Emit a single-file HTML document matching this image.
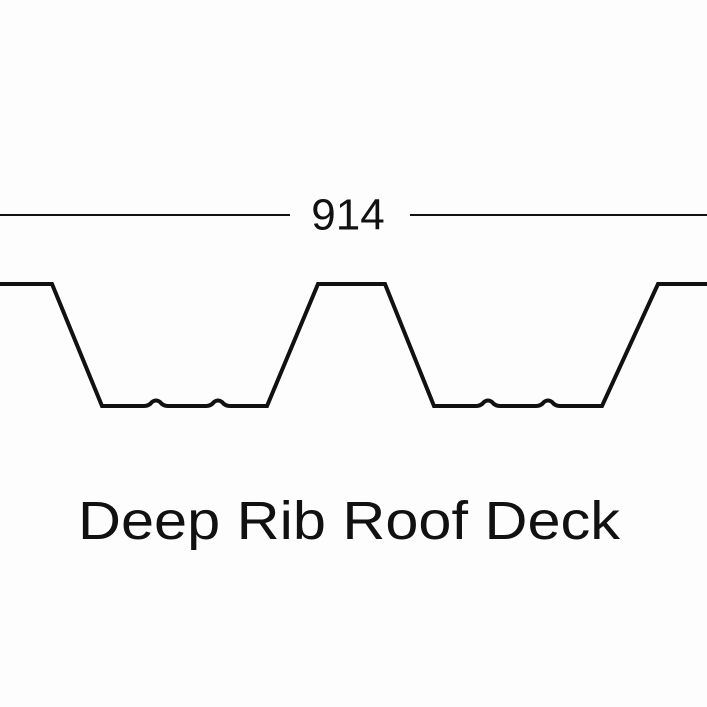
<!DOCTYPE html>
<html><head><style>
html,body{margin:0;padding:0;background:#fdfdfd;}
svg{display:block}
</style></head><body>
<svg width="707" height="707" viewBox="0 0 707 707" xmlns="http://www.w3.org/2000/svg">
<rect width="707" height="707" fill="#fdfdfd"/>
<line x1="0" y1="215" x2="290" y2="215" stroke="#111" stroke-width="2"/>
<line x1="410" y1="215" x2="707" y2="215" stroke="#111" stroke-width="2"/>
<text x="348" y="218" font-family="Liberation Sans, sans-serif" font-size="44" text-anchor="middle" dominant-baseline="middle" fill="#111">914</text>
<path d="M0,284 L52,284 L102,406 L144,406 Q149,406 152,402 Q156,399 160,402 Q163,406 168,406 L206,406 Q211,406 214,402 Q218,399 222,402 Q225,406 230,406 L267,406 L318,284 L385,284 L434,406 L476,406 Q481,406 484,402 Q488,399 492,402 Q495,406 500,406 L536,406 Q541,406 544,402 Q548,399 552,402 Q555,406 560,406 L602,406 L658,284 L707,284" fill="none" stroke="#111" stroke-width="4" stroke-linejoin="miter"/>
<text x="78" y="539" font-family="Liberation Sans, sans-serif" font-size="54" textLength="542" lengthAdjust="spacingAndGlyphs" fill="#111">Deep Rib Roof Deck</text>
</svg>
</body></html>
